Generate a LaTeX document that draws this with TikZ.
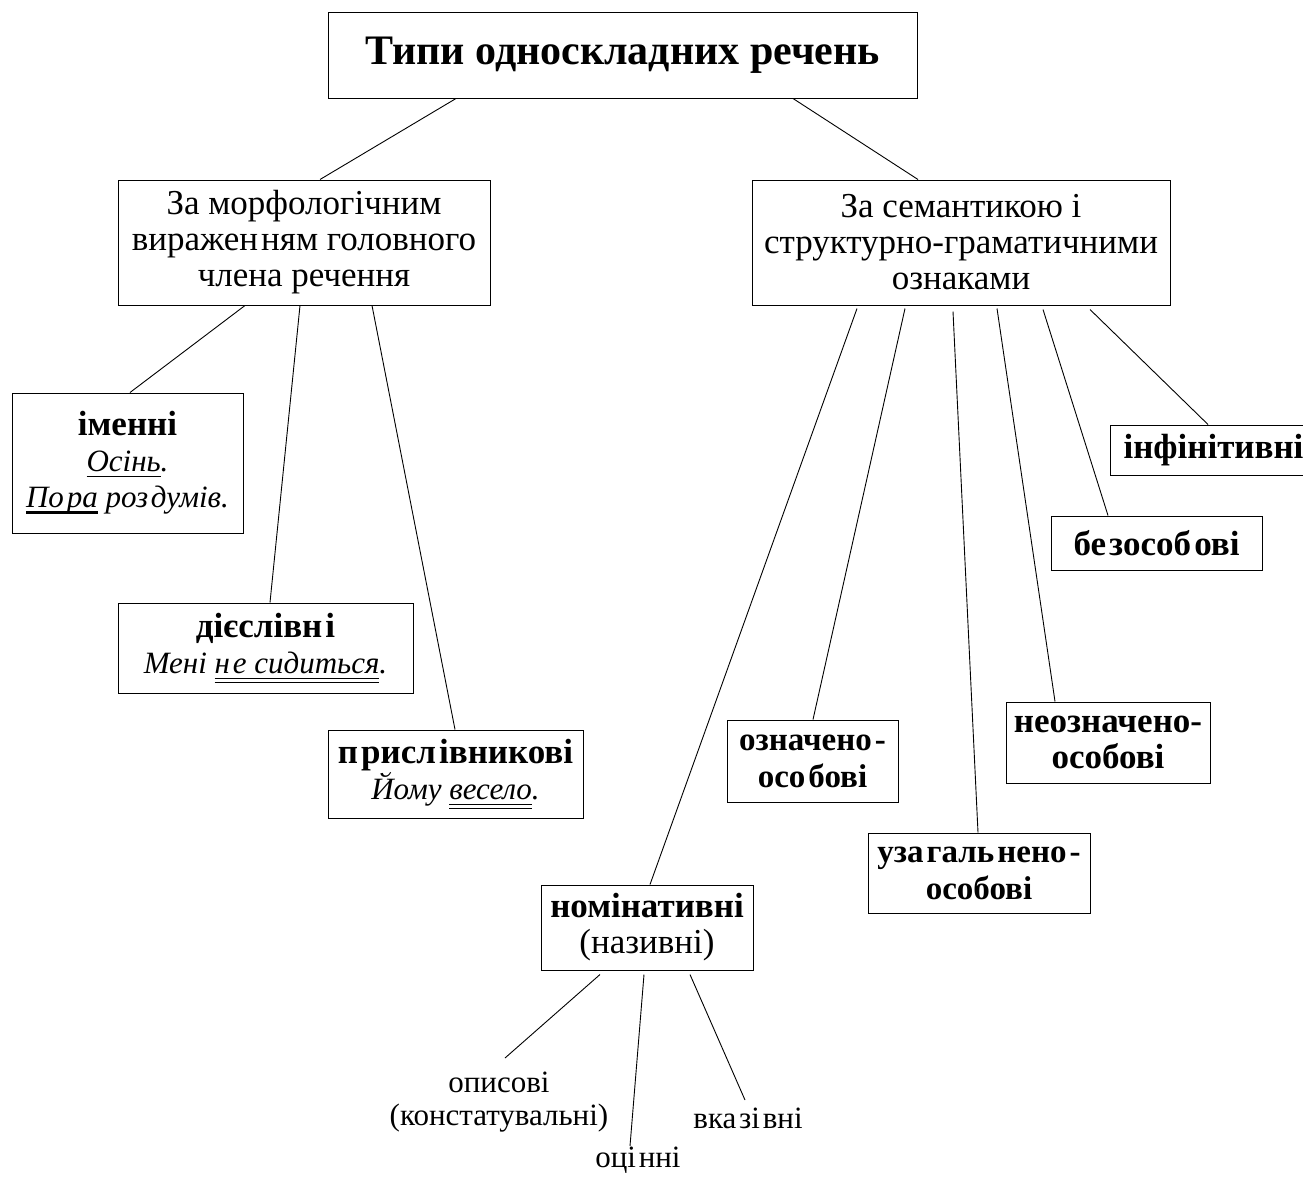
\documentclass[tikz,border=0pt]{standalone}
\usepackage{fontspec}
\setmainfont{Liberation Serif}
\usetikzlibrary{positioning}
\newcommand\sg{\hspace{0.09em}}
\newcommand\ulsingle[1]{\leavevmode\setbox0\hbox{#1}\rlap{\rule[-5pt]{\wd0}{1.2pt}}\box0\relax}
\newcommand\ulthick[1]{\leavevmode\setbox0\hbox{#1}\rlap{\rule[-6pt]{\wd0}{2.6pt}}\box0\relax}
\newcommand\uldouble[1]{\leavevmode\setbox0\hbox{#1}\rlap{\rule[-5.5pt]{\wd0}{1.1pt}}\rlap{\rule[-9.5pt]{\wd0}{1.1pt}}\box0\relax}
\newcommand\ex{\fontsize{31}{36}\selectfont\itshape}
\begin{document}
\begin{tikzpicture}[x=1pt,y=-1pt,
  box/.style={draw,line width=1pt,align=center,inner sep=0pt,font=\fontsize{35}{36}\selectfont},
  leaf/.style={align=center,inner sep=0pt,font=\fontsize{31}{33}\selectfont},
  conn/.style={line width=0.9pt}]
\useasboundingbox (0,0) rectangle (1303,1176);
\fill[white] (0,0) rectangle (1303,1176);
\node[box,minimum width=589pt,minimum height=86pt,font=\fontsize{42}{46}\selectfont\bfseries] (t) at (622.5,55) {Типи односкладних речень};
\node[box,minimum width=372pt,minimum height=125pt] (lm) at (304,242.5) {За морфологічним\\виражен\sg ням головного\\члена речення};
\node[box,minimum width=418pt,minimum height=125pt] (rm) at (961,242.5) {За семантикою і\\структурно-граматичними\\ознаками};
\node[box,minimum width=231pt,minimum height=140pt] (im) at (127.5,463) {\textbf{іменні}\\{\ex\ulsingle{Осінь}.}\\{\ex\ulthick{По\sg ра} роз\sg думів.}};
\node[box,minimum width=295pt,minimum height=90pt] (di) at (265.5,648) {\textbf{дієслівн\sg і}\\{\ex Мені \uldouble{н\sg е сидиться}.}};
\node[box,minimum width=255pt,minimum height=88pt] (pr) at (455.5,774) {\textbf{п\sg рисл\sg івникові}\\{\ex Йому \uldouble{весело}.}};
\node[box,minimum width=212pt,minimum height=85pt] (no) at (647,927.5) {\textbf{номінативні}\\(називні)};
\node[box,minimum width=171pt,minimum height=82pt,font=\fontsize{33}{37}\selectfont] (oz) at (812.5,761) {\textbf{означено\sg -}\\\textbf{осо\sg бові}};
\node[box,minimum width=222pt,minimum height=80pt,font=\fontsize{33}{37}\selectfont] (uz) at (979,873) {\textbf{уза\sg галь\sg нено\sg -}\\\textbf{особові}};
\node[box,minimum width=204pt,minimum height=81pt] (ne) at (1108,742.5) {\textbf{неозначено-}\\\textbf{особові}};
\node[box,minimum width=211pt,minimum height=54pt] (bz) at (1156.5,543) {\textbf{бе\sg зособ\sg ові}};
\node[box,minimum width=200pt,minimum height=50pt,anchor=west] (in) at (1110,450) {\hspace*{6pt}\textbf{інфінітивні}\hfill};
% leaves
\node[leaf] (op) at (499,1102) {описові\\(констатувальні)};
\node[leaf] (oc) at (638,1160) {оці\sg нні};
\node[leaf] (vk) at (748,1118) {вка\sg зі\sg вні};
\coordinate (opt) at (505,1058);
\coordinate (oct) at (630,1146);
\coordinate (vkt) at (745,1100);
% connectors
\draw[conn] ([xshift=-166.5pt]t.south) -- ([xshift=16pt]lm.north);
\draw[conn] ([xshift=170.5pt]t.south) -- ([xshift=-43pt]rm.north);
\draw[conn] ([xshift=-59pt]lm.south) -- ([xshift=2.5pt]im.north);
\draw[conn] ([xshift=-4pt]lm.south) -- ([xshift=4.5pt]di.north);
\draw[conn] ([xshift=68pt]lm.south) -- ([xshift=-0.5pt]pr.north);
\draw[conn] ([xshift=-104pt,yshift=-3pt]rm.south) -- ([xshift=3pt]no.north);
\draw[conn] ([xshift=-56pt,yshift=-3pt]rm.south) -- ([xshift=0.5pt]oz.north);
\draw[conn] ([xshift=-8pt,yshift=-6pt]rm.south) -- ([xshift=-1pt]uz.north);
\draw[conn] ([xshift=36pt,yshift=-3pt]rm.south) -- ([xshift=-53pt]ne.north);
\draw[conn] ([xshift=82pt,yshift=-4pt]rm.south) -- ([xshift=-48.5pt]bz.north);
\draw[conn] ([xshift=129pt,yshift=-4pt]rm.south) -- ([xshift=98pt]in.north west);
\draw[conn] ([xshift=-47pt,yshift=-4pt]no.south) -- (opt);
\draw[conn] ([xshift=-3pt,yshift=-4pt]no.south) -- (oct);
\draw[conn] ([xshift=43pt,yshift=-4pt]no.south) -- (vkt);
\end{tikzpicture}
\end{document}
